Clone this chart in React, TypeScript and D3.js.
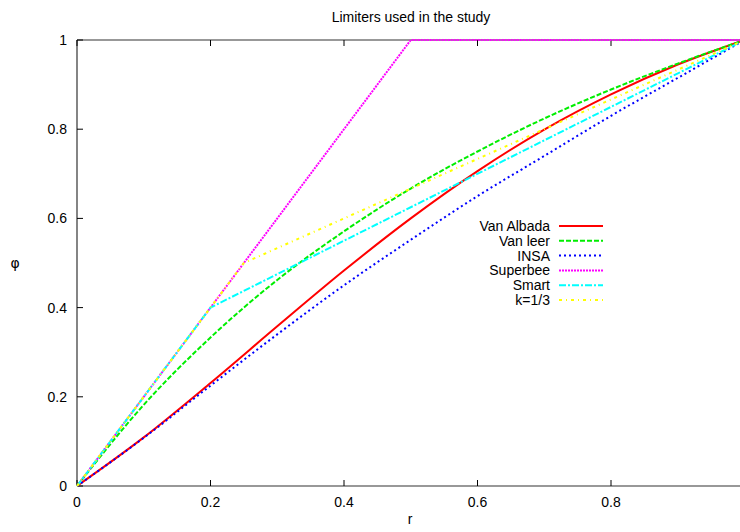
import React from 'react';
import * as d3 from 'd3';

// sample points
const R_STEPS = [0, 0.1, 0.2, 0.3, 0.4, 0.5, 0.6, 0.7, 0.8, 0.9, 1.0];
const VAN_ALBADA = [0, 0.109, 0.231, 0.358, 0.483, 0.6, 0.706, 0.799, 0.878, 0.945, 1.0];
const VAN_LEER = [0, 0.182, 0.333, 0.462, 0.571, 0.667, 0.75, 0.824, 0.889, 0.947, 1.0];
const INSA = [0, 0.108, 0.225, 0.34, 0.45, 0.552, 0.65, 0.74, 0.83, 0.915, 1.0];

const SUPERBEE_R = [0, 0.5, 1.0];
const SUPERBEE = [0, 1.0, 1.0];
const SMART_R = [0, 0.2, 1.0];
const SMART = [0, 0.4, 1.0];
const K13_R = [0, 0.25, 1.0];
const K13 = [0, 0.5, 1.0];

const X_TICKS = [0, 0.2, 0.4, 0.6, 0.8];
const Y_TICKS = [0, 0.2, 0.4, 0.6, 0.8, 1];

const SERIES = [
    { name: 'Van Albada', r: R_STEPS, phi: VAN_ALBADA, color: '#ff0000', dash: null, smooth: true },
    { name: 'Van leer', r: R_STEPS, phi: VAN_LEER, color: '#00ee00', dash: '5,2', smooth: true },
    { name: 'INSA', r: R_STEPS, phi: INSA, color: '#0000ff', dash: '2,3', smooth: true },
    { name: 'Superbee', r: SUPERBEE_R, phi: SUPERBEE, color: '#ff00ff', dash: '2,1', smooth: false },
    { name: 'Smart', r: SMART_R, phi: SMART, color: '#00ffff', dash: '7,2,2,2', smooth: false },
    { name: 'k=1/3', r: K13_R, phi: K13, color: '#ffff00', dash: '3,4,1,4', smooth: false },
];

const W = 740;
const H = 532;
const margin = { left: 77, top: 40, bottom: 46 };

export default function App() {
    const xScale = d3.scaleLinear().domain([0, 1]).range([margin.left, 744.5]);
    const yScale = d3.scaleLinear().domain([0, 1]).range([H - margin.bottom, margin.top]);
    const font = '"Liberation Sans", Arial, sans-serif';

    const makeLine = (smooth) =>
        d3.line()
            .x(d => xScale(d[0]))
            .y(d => yScale(d[1]))
            .curve(smooth ? d3.curveMonotoneX : d3.curveLinear);

    const legendX = 550;
    const legendY = 226;
    const legendStep = 14.8;

    return (
        <svg width={W} height={H} style={{ position: 'absolute', left: 0, top: 0, background: '#fff' }}
            fontFamily={font} fontSize={14}>
            <text x={411} y={22} textAnchor="middle">Limiters used in the study</text>

            {/* border */}
            <g stroke="#333" strokeWidth={1.2} fill="none">
                <line x1={xScale(0)} x2={W} y1={yScale(0)} y2={yScale(0)} />
                <line x1={xScale(0)} x2={W} y1={yScale(1)} y2={yScale(1)} />
                <line x1={xScale(0)} x2={xScale(0)} y1={yScale(0)} y2={yScale(1)} />
            </g>

            {/* ticks */}
            <g stroke="#000" strokeWidth={1}>
                {X_TICKS.map(t => (
                    <g key={'x' + t}>
                        <line x1={xScale(t)} x2={xScale(t)} y1={yScale(0)} y2={yScale(0) - 6} />
                        <line x1={xScale(t)} x2={xScale(t)} y1={yScale(1)} y2={yScale(1) + 6} />
                    </g>
                ))}
                {Y_TICKS.map(t => (
                    <line key={'y' + t} x1={xScale(0)} x2={xScale(0) + 6} y1={yScale(t)} y2={yScale(t)} />
                ))}
            </g>
            {X_TICKS.map(t => (
                <text key={'xl' + t} x={xScale(t)} y={507} textAnchor="middle">{String(t)}</text>
            ))}
            {Y_TICKS.map(t => (
                <text key={'yl' + t} x={67} y={yScale(t) + 5} textAnchor="end">{String(t)}</text>
            ))}

            <text x={410} y={524} textAnchor="middle">r</text>
            <text x={15} y={268} textAnchor="middle" fontFamily="DejaVu Sans">φ</text>

            {/* curves */}
            {SERIES.map(s => (
                <path key={s.name}
                    d={makeLine(s.smooth)(s.r.map((r, i) => [r, s.phi[i]]))}
                    fill="none" stroke={s.color} strokeWidth={2}
                    strokeDasharray={s.dash || undefined} />
            ))}

            {/* legend */}
            {SERIES.map((s, i) => (
                <g key={'lg' + s.name}>
                    <text x={legendX} y={legendY + i * legendStep + 5} textAnchor="end">{s.name}</text>
                    <line x1={legendX + 9} x2={legendX + 53} y1={legendY + i * legendStep} y2={legendY + i * legendStep}
                        stroke={s.color} strokeWidth={2} strokeDasharray={s.dash || undefined} />
                </g>
            ))}
        </svg>
    );
}
